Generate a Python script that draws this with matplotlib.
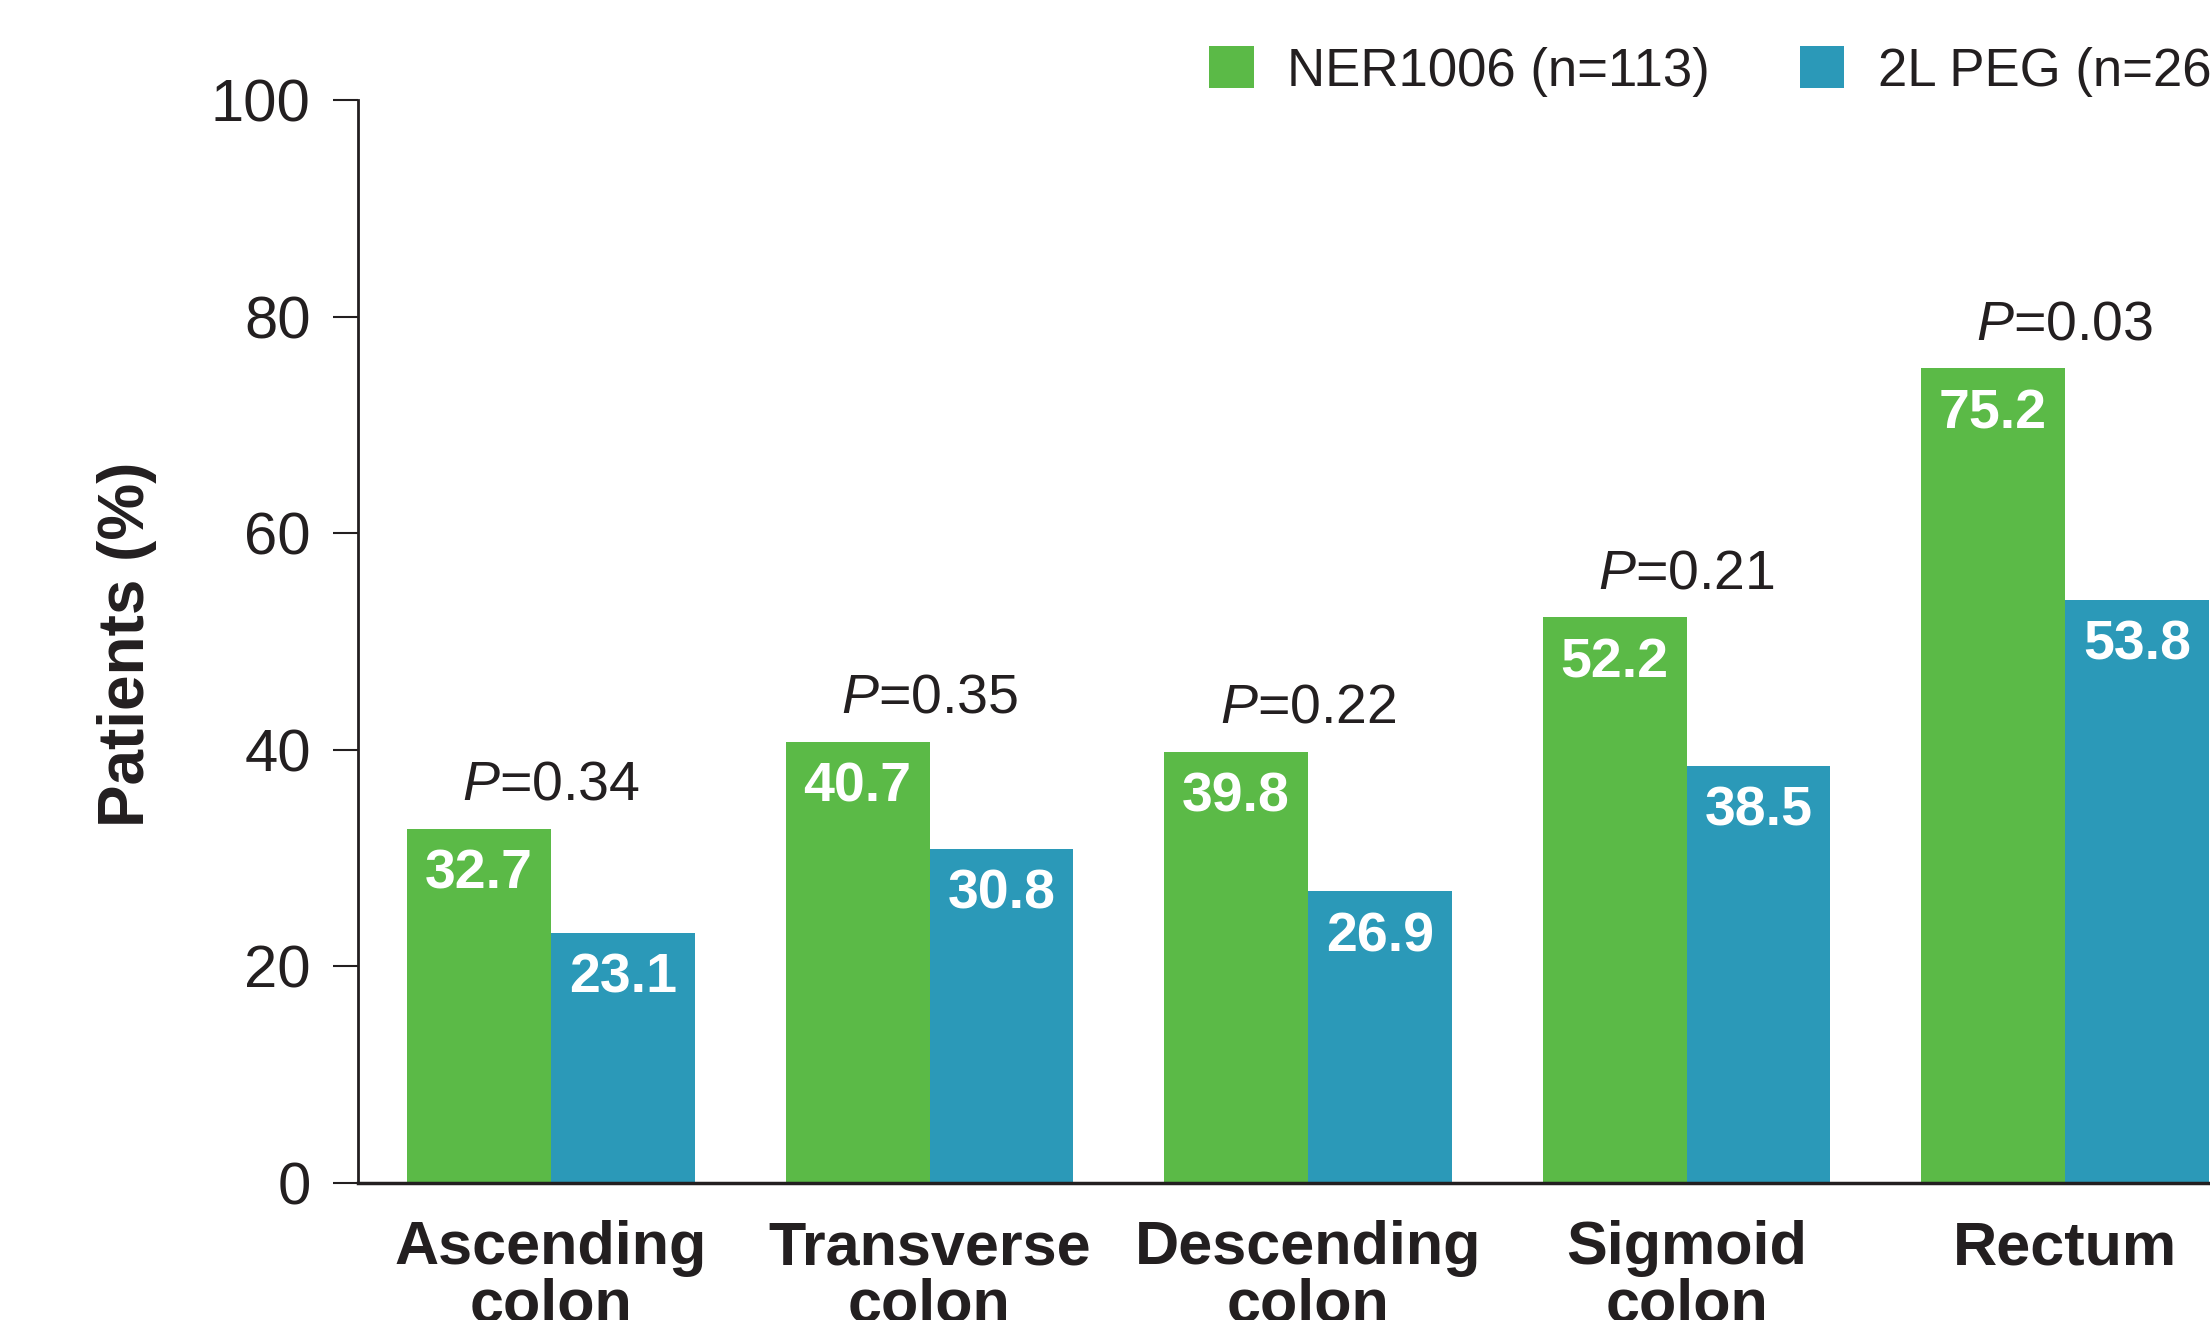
import matplotlib.pyplot as plt
from matplotlib.patches import Patch
import numpy as np

plt.rcParams["font.family"] = ["Liberation Sans", "DejaVu Sans"]
plt.rcParams["mathtext.fontset"] = "custom"
plt.rcParams["mathtext.it"] = "Liberation Sans:italic"

categories = ["Ascending\ncolon", "Transverse\ncolon", "Descending\ncolon",
              "Sigmoid\ncolon", "Rectum"]
ner1006 = [32.7, 40.7, 39.8, 52.2, 75.2]
peg2l = [23.1, 30.8, 26.9, 38.5, 53.8]
p_values = ["0.34", "0.35", "0.22", "0.21", "0.03"]
series_names = ["NER1006 (n=113)", "2L PEG (n=26)"]

GREEN = "#5BBA47"
BLUE = "#2B99B8"
INK = "#231F20"

W, H, DPI = 2210, 1320, 100
fig = plt.figure(figsize=(W / DPI, H / DPI), dpi=DPI)

# axes box in pixels: y axis at x=358, zero line at y=1182.6, 100 at y=100
left, right = 358, W
bottom, top = 1182.6, 100
ax = fig.add_axes([left / W, 1 - bottom / H, (right - left) / W, (bottom - top) / H])

x = np.arange(len(categories))
width = 0.38
# first group centre sits 193 px right of the axis, groups 378.5 px apart
ax.set_xlim(-193 / 378.5, -193 / 378.5 + (right - left) / 378.5)
ax.set_ylim(0, 100)

b1 = ax.bar(x - width / 2, ner1006, width, color=GREEN, linewidth=0)
b2 = ax.bar(x + width / 2, peg2l, width, color=BLUE, linewidth=0)

for bars, vals in [(b1, ner1006), (b2, peg2l)]:
    for rect, v in zip(bars, vals):
        ax.annotate(f"{v}", (rect.get_x() + rect.get_width() / 2, v),
                    xytext=(0, -43), textcoords="offset points",
                    ha="center", va="baseline", color="white",
                    fontsize=40, fontweight="bold")

for xi, g, b, p in zip(x, ner1006, peg2l, p_values):
    ax.annotate(f"$\\mathit{{P}}$=" + p, (xi, max(g, b)),
                xytext=(0, 21), textcoords="offset points",
                ha="center", va="baseline", color=INK, fontsize=40)

ax.spines["top"].set_visible(False)
ax.spines["right"].set_visible(False)
ax.spines["left"].set_linewidth(2)
ax.spines["bottom"].set_linewidth(2.5)
ax.spines["left"].set_color(INK)
ax.spines["bottom"].set_color(INK)

ax.set_yticks(np.arange(0, 101, 20))
ax.tick_params(axis="y", length=18, width=1.5, pad=16, labelsize=43,
               color=INK, labelcolor=INK)
ax.set_xticks(x)
ax.set_xticklabels(categories, fontsize=44, fontweight="bold",
                   linespacing=1.02, color=INK)
ax.tick_params(axis="x", length=0, pad=27)

fig.text(127 / W, 1 - 644 / H, "Patients (%)", rotation=90, ha="center",
         va="center", fontsize=46, fontweight="bold", color=INK)

handles = [Patch(facecolor=GREEN, edgecolor="none"),
           Patch(facecolor=BLUE, edgecolor="none")]
fig.legend(handles, series_names, loc="center left",
           bbox_to_anchor=(1209 / W, 1 - 71.5 / H), ncol=2, frameon=False,
           fontsize=38, handlelength=0.85, handleheight=0.85,
           handletextpad=0.63, columnspacing=1.7, borderpad=0,
           borderaxespad=0, labelcolor=INK)

fig.savefig("out.png", dpi=DPI)
